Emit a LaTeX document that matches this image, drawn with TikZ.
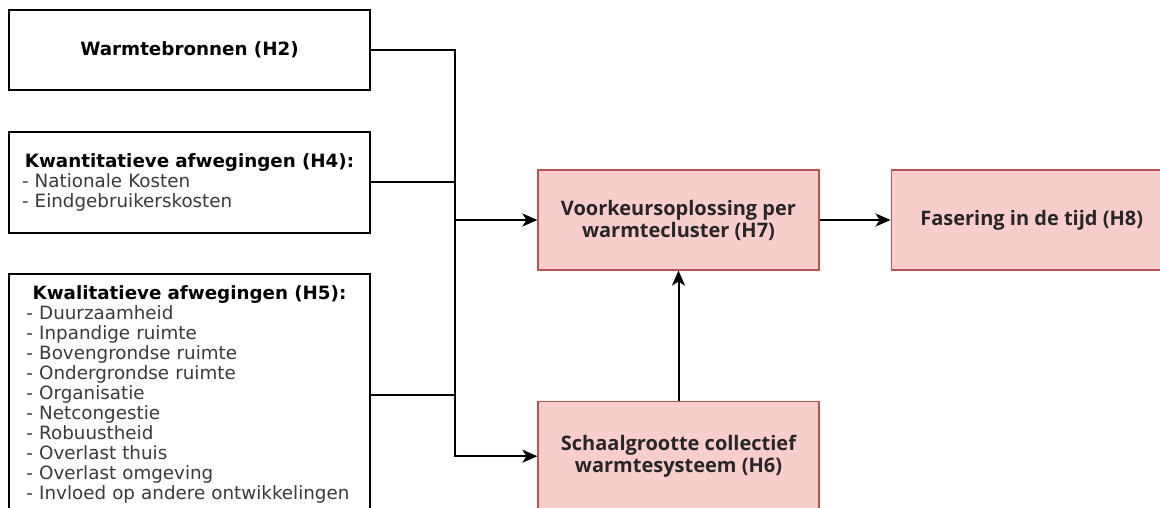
\documentclass[tikz,border=0pt]{standalone}
\usepackage{fontspec}
\setmainfont{DejaVu Sans}
\newfontfamily\phasefont{Open Sans}
\usetikzlibrary{arrows.meta, positioning}
\definecolor{phaseFill}{HTML}{F8CECC}
\definecolor{phaseLine}{HTML}{B85450}
\definecolor{itemGray}{HTML}{3A3A3A}

\begin{document}
\begin{tikzpicture}[
    x=1pt, y=-1pt,
    font=\fontsize{18.3}{20}\selectfont,
    inbox/.style={draw=black, line width=1.8pt, fill=white, minimum width=361pt, inner sep=0pt},
    phase/.style={draw=phaseLine, line width=1.2pt, fill=phaseFill, minimum width=281pt, minimum height=100pt,
      inner sep=0pt, align=center, font=\phasefont\bfseries\fontsize{20}{22}\selectfont, text=black!85},
    link/.style={line width=2pt, draw=black},
    arrow/.style={link, -{Stealth[length=15pt, width=13pt, inset=4pt]}}
  ]
    \useasboundingbox (0,0) rectangle (1160,508);
    \clip (0,0) rectangle (1160,508);

    % inputs on the left
    \node[inbox, minimum height=80pt] (src) at (189.5,50) {\textbf{Warmtebronnen (H2)}};
    \node[inbox, minimum height=101pt, below=40pt of src, text width=335pt, align=left] (kwant)
      {{\centering\textbf{Kwantitatieve afwegingen (H4):}\par}\color{itemGray}%
       - Nationale Kosten\\- Eindgebruikerskosten};
    \node[inbox, minimum height=242pt, below=39pt of kwant, text width=326pt, align=left] (kwal)
      {{\centering\textbf{Kwalitatieve afwegingen (H5):}\par}\color{itemGray}%
       - Duurzaamheid\\- Inpandige ruimte\\- Bovengrondse ruimte\\- Ondergrondse ruimte\\%
       - Organisatie\\- Netcongestie\\- Robuustheid\\- Overlast thuis\\- Overlast omgeving\\%
       - Invloed op andere ontwikkelingen};

    % chapters
    \node[phase] (pref) at (678.5,220) {Voorkeursoplossing per\\warmtecluster (H7)};
    \node[phase, right=71pt of pref] (fase) {Fasering in de tijd (H8)};
    \node[phase, minimum height=110pt, below=130pt of pref] (scale) {Schaalgrootte collectief\\warmtesysteem (H6)};

    % bus
    \draw[arrow] (src.east) -- ++(84,0) coordinate (bus) |- (scale.west);
    \draw[link] (kwant.east) -- (kwant.east -| bus);
    \draw[link] (kwal.east) -- (kwal.east -| bus);
    \draw[arrow] (bus |- pref.west) -- (pref.west);

    \draw[arrow] (scale) -- (pref);
    \draw[arrow] (pref) -- (fase);
  \end{tikzpicture}
\end{document}
